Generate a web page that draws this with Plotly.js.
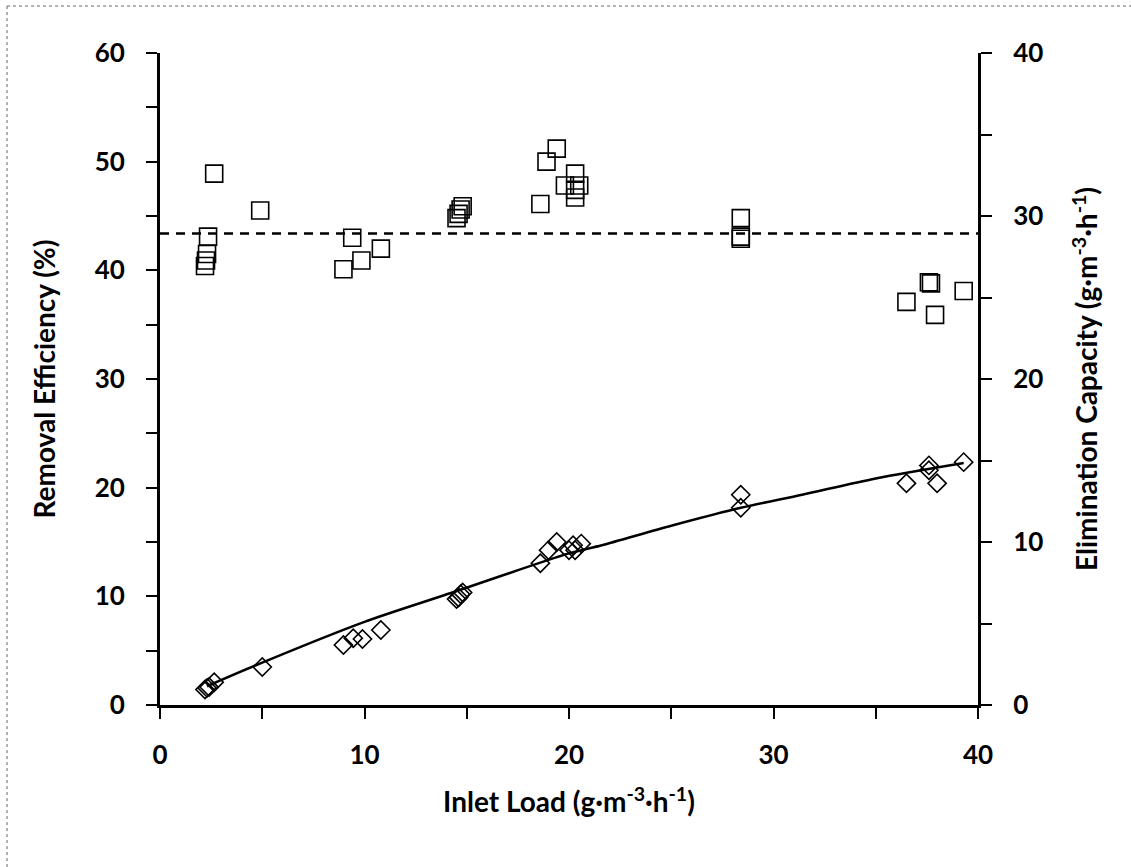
<!DOCTYPE html>
<html>
<head>
<meta charset="utf-8">
<script src="https://cdn.plot.ly/plotly-3.0.1.min.js"></script>
<style>
  html, body { margin: 0; padding: 0; background: #fff; }
  #chart { width: 1131px; height: 867px; }
</style>
</head>
<body>
<div id="chart"></div>
<script>
// Removal efficiency (%) against inlet load
const reLoad = [2.2, 2.25, 2.3, 2.35, 2.65, 4.9, 8.97, 9.4, 9.85, 10.8,
                14.5, 14.6, 14.7, 14.8, 18.6, 18.9, 19.4, 19.8, 20.3, 20.3,
                20.3, 20.5, 28.4, 28.4, 28.4, 36.5, 37.6, 37.7, 37.9, 39.3];
const removalEff = [40.4, 40.9, 41.5, 43.1, 48.9, 45.5, 40.1, 43.0, 40.9, 42.0,
                    44.8, 45.2, 45.6, 45.9, 46.1, 50.0, 51.2, 47.8, 48.9, 47.4,
                    46.7, 47.8, 44.8, 43.1, 42.9, 37.1, 38.9, 38.8, 35.9, 38.1];

// Elimination capacity (g·m-3·h-1) against inlet load
const ecLoad = [2.2, 2.3, 2.4, 2.65, 5.0, 8.97, 9.45, 9.9, 10.8,
                14.5, 14.6, 14.7, 14.8, 18.6, 19.0, 19.4, 20.0, 20.2, 20.3, 20.6,
                28.4, 28.4, 36.5, 37.6, 37.6, 38.0, 39.3];
const elimCap = [0.95, 1.05, 1.1, 1.4, 2.33, 3.68, 4.1, 4.05, 4.6,
                 6.5, 6.6, 6.8, 6.9, 8.7, 9.5, 10.0, 9.5, 9.8, 9.5, 9.9,
                 12.9, 12.1, 13.6, 14.7, 14.4, 13.6, 14.9];

// Fitted elimination capacity trend
const fitLoad = [2.3, 5, 10, 14.3, 20, 21.6, 25, 28.4, 31.4, 35, 39.3];
const fitEC   = [1.15, 2.6, 5.1, 6.9, 9.3, 9.8, 11.0, 12.1, 12.9, 13.9, 14.85];

// Mean removal efficiency
const meanRemoval = 43.4;

// Axis ranges
const loadRange = [0, 40];
const reRange = [0, 60];
const ecRange = [0, 40];

const FONT = 'Lato, "Open Sans", sans-serif';

const traces = [
  {
    x: loadRange, y: [meanRemoval, meanRemoval],
    mode: 'lines', yaxis: 'y', showlegend: false, hoverinfo: 'skip',
    line: { color: '#000', width: 2.5, dash: '9px,7px' }
  },
  {
    x: reLoad, y: removalEff, mode: 'markers', yaxis: 'y', showlegend: false,
    marker: { symbol: 'square-open', size: 17, color: '#000', line: { width: 1.6, color: '#000' } }
  },
  {
    x: fitLoad, y: fitEC, mode: 'lines', yaxis: 'y2', showlegend: false,
    line: { color: '#000', width: 2.5, shape: 'spline', smoothing: 0.8 }
  },
  {
    x: ecLoad, y: elimCap, mode: 'markers', yaxis: 'y2', showlegend: false,
    marker: { symbol: 'diamond-open', size: 14, color: '#000', line: { width: 1.6, color: '#000' } }
  }
];

const tickFont = { family: FONT, size: 26, color: '#000', weight: 'bold' };
const titleFont = { family: FONT, size: 28, color: '#000', weight: 'bold' };

const axisCommon = {
  showgrid: false, zeroline: false, showline: true, linecolor: '#000', linewidth: 3,
  ticks: 'outside', ticklen: 11, tickwidth: 2, tickcolor: '#000',
  tickfont: tickFont, dtick: 10, tick0: 0, fixedrange: true,
  minor: { ticks: 'outside', ticklen: 11, tickwidth: 2, tickcolor: '#000', dtick: 5, showgrid: false }
};

const layout = {
  width: 1131, height: 867,
  paper_bgcolor: '#fff', plot_bgcolor: '#fff',
  margin: { l: 160, r: 153, t: 53, b: 162 },
  xaxis: Object.assign({}, axisCommon, {
    range: loadRange, ticklabelstandoff: 14,
    title: { text: 'Inlet Load (g·m<sup>-3</sup>·h<sup>-1</sup>)', font: titleFont, standoff: 24 }
  }),
  yaxis: Object.assign({}, axisCommon, {
    range: reRange, ticklabelstandoff: 16,
    title: { text: 'Removal Efficiency (%)', font: titleFont, standoff: 31 }
  }),
  yaxis2: Object.assign({}, axisCommon, {
    range: ecRange, overlaying: 'y', side: 'right', ticklabelstandoff: 16,
    title: { text: 'Elimination Capacity (g·m<sup>-3</sup>·h<sup>-1</sup>)', font: titleFont, standoff: 36 }
  }),
  shapes: [
    // thin dotted frame along the top and left page edges
    { type: 'line', xref: 'paper', yref: 'paper', x0: -0.187, x1: 1.19, y0: 1.072, y1: 1.072,
      line: { color: '#666', width: 1, dash: 'dot' } },
    { type: 'line', xref: 'paper', yref: 'paper', x0: -0.187, x1: -0.187, y0: 1.072, y1: -0.25,
      line: { color: '#666', width: 1, dash: 'dot' } }
  ]
};

Plotly.newPlot('chart', traces, layout, { displayModeBar: false, staticPlot: true });
</script>
</body>
</html>
